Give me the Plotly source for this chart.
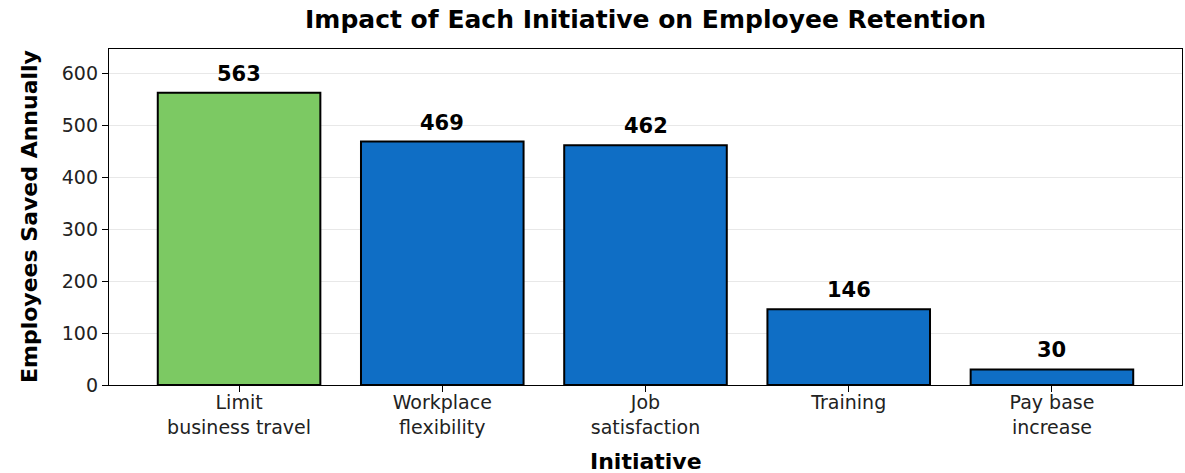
import plotly.graph_objects as go

categories = ["Limit<br>business travel", "Workplace<br>flexibility", "Job<br>satisfaction", "Training", "Pay base<br>increase"]
values = [563, 469, 462, 146, 30]
colors = ["#7cc963", "#0f6ec5", "#0f6ec5", "#0f6ec5", "#0f6ec5"]

FONT = "DejaVu Sans"
x_idx = list(range(len(categories)))

fig = go.Figure()
fig.add_trace(go.Bar(
    x=x_idx, y=values, width=0.8,
    marker=dict(color=colors, line=dict(color="black", width=2)),
    hoverinfo="skip",
))

for i, v in zip(x_idx, values):
    fig.add_annotation(x=i, y=v, text=f"<b>{v}</b>", showarrow=False,
                       yanchor="bottom", yshift=5,
                       font=dict(family=FONT, size=21, color="black"))

# axis titles
fig.add_annotation(xref="paper", yref="paper", x=0.5, y=0, yshift=-76,
                   text="<b>Initiative</b>", showarrow=False,
                   xanchor="center", yanchor="middle",
                   font=dict(family=FONT, size=22, color="black"))
fig.add_annotation(xref="paper", yref="paper", x=0, y=0.5, xshift=-80,
                   text="<b>Employees Saved Annually</b>", showarrow=False, textangle=-90,
                   xanchor="center", yanchor="middle",
                   font=dict(family=FONT, size=22, color="black"))

fig.update_layout(
    width=1185, height=473,
    margin=dict(l=109, r=3, t=49, b=88),
    paper_bgcolor="white", plot_bgcolor="white",
    showlegend=False,
    font=dict(family=FONT, size=19, color="#222"),
    title=dict(text="<b>Impact of Each Initiative on Employee Retention</b>",
               x=(109 + 1182) / 2 / 1185, xanchor="center", y=0.96, yanchor="middle",
               font=dict(family=FONT, size=25, color="black")),
    bargap=0.2,
)
fig.update_xaxes(
    range=[-0.64, 4.64], tickmode="array", tickvals=x_idx, ticktext=categories,
    showgrid=False, showline=True, linecolor="black", linewidth=1.3, mirror=True,
    ticks="outside", ticklen=6, tickcolor="black", automargin=False,
    ticklabelstandoff=-6,
    tickfont=dict(family=FONT, size=19, color="#222"),
)
fig.update_yaxes(
    range=[0, 563 * 1.15], dtick=100,
    showgrid=True, gridcolor="#e8e8e8", gridwidth=1,
    showline=True, linecolor="black", linewidth=1.3, mirror=True,
    ticks="outside", ticklen=6, tickcolor="black", zeroline=False, automargin=False,
    tickfont=dict(family=FONT, size=19, color="#222"),
)

fig.write_html("out.html")
